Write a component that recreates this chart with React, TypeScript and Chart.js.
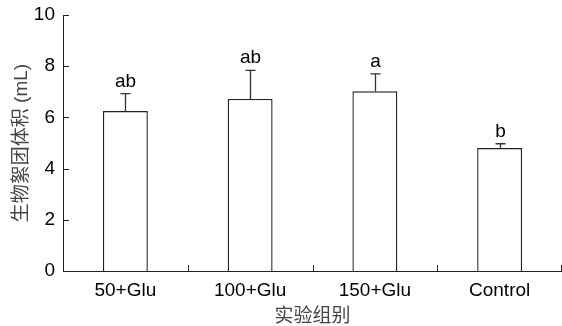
import React, { useEffect, useRef } from "react";
import { Chart, registerables } from "chart.js";

Chart.register(...registerables);

const categories = ["50+Glu", "100+Glu", "150+Glu", "Control"];
const means = [6.25, 6.72, 7.02, 4.8];
const errors = [0.68, 1.12, 0.68, 0.17];
const letters = ["ab", "ab", "a", "b"];
const yTicks = [0, 2, 4, 6, 8, 10];

const FONT = '"Liberation Sans", Arial, "Noto Sans CJK SC", sans-serif';

const decorPlugin = {
  id: "decor",
  afterDatasetsDraw(chart: any) {
    const { ctx, chartArea, scales } = chart;
    const x = scales.x;
    const y = scales.y;
    ctx.save();
    ctx.strokeStyle = "#222";
    ctx.lineWidth = 1;
    yTicks.forEach((v) => {
      const py = Math.round(y.getPixelForValue(v)) + 0.5;
      ctx.beginPath();
      ctx.moveTo(chartArea.left, py);
      ctx.lineTo(chartArea.left + 6, py);
      ctx.stroke();
    });
    const n = categories.length;
    const half = (x.getPixelForValue(1) - x.getPixelForValue(0)) / 2;
    for (let i = 0; i <= n; i++) {
      let px = i < n ? x.getPixelForValue(i) - half : x.getPixelForValue(n - 1) + half;
      px = Math.min(Math.round(px), chart.width - 1) + 0.5;
      ctx.beginPath();
      ctx.moveTo(px, chartArea.bottom);
      ctx.lineTo(px, chartArea.bottom - 6);
      ctx.stroke();
    }
    ctx.strokeStyle = "#333";
    ctx.lineWidth = 1.3;
    ctx.fillStyle = "#000";
    ctx.font = "19px " + FONT;
    ctx.textAlign = "center";
    ctx.textBaseline = "alphabetic";
    means.forEach((m, i) => {
      const cx = Math.round(x.getPixelForValue(i)) + 0.5;
      const yTop = y.getPixelForValue(m);
      const yErr = y.getPixelForValue(m + errors[i]);
      ctx.beginPath();
      ctx.moveTo(cx, yTop);
      ctx.lineTo(cx, yErr);
      ctx.moveTo(cx - 5, yErr);
      ctx.lineTo(cx + 5, yErr);
      ctx.stroke();
      ctx.fillText(letters[i], cx, yErr - 7);
    });
    ctx.restore();
  },
};

export default function App() {
  const ref = useRef<HTMLCanvasElement | null>(null);
  useEffect(() => {
    document.body.style.margin = "0";
    const canvas = ref.current;
    if (!canvas) return;
    const chart = new Chart(canvas, {
      type: "bar",
      data: {
        labels: categories,
        datasets: [
          {
            data: means,
            backgroundColor: "#ffffff",
            borderColor: "#222",
            borderWidth: 1.4,
            borderSkipped: "bottom",
            categoryPercentage: 1,
            barPercentage: 0.36,
          },
        ],
      },
      options: {
        responsive: false,
        animation: false,
        devicePixelRatio: 1,
        layout: { padding: { top: 15, right: 0, left: 0, bottom: 0 } },
        plugins: {
          legend: { display: false },
          tooltip: { enabled: false },
        },
        scales: {
          x: {
            offset: true,
            grid: { display: false, drawTicks: false },
            border: { display: true, color: "#222", width: 1 },
            ticks: {
              color: "#000",
              font: { family: FONT, size: 19 },
              padding: 8,
              maxRotation: 0,
            },
            title: {
              display: true,
              text: "实验组别",
              color: "#444",
              font: { family: FONT, size: 19, lineHeight: 1 },
              padding: { top: 0, bottom: 0 },
            },
            afterFit(scale: any) {
              scale.height = 55;
              scale.paddingLeft = 0;
              scale.paddingRight = 0;
            },
          },
          y: {
            min: 0,
            max: 10,
            grid: { display: false, drawTicks: false },
            border: { display: true, color: "#222", width: 1 },
            ticks: {
              stepSize: 2,
              color: "#000",
              font: { family: FONT, size: 19 },
              padding: 8,
            },
            title: {
              display: true,
              text: "生物絮团体积 (mL)",
              color: "#444",
              font: { family: FONT, size: 19 },
              padding: { top: 10, bottom: 0 },
            },
            afterFit(scale: any) {
              scale.width = 63;
              scale.paddingTop = 0;
              scale.paddingBottom = 0;
            },
          },
        },
      },
      plugins: [decorPlugin],
    });
    return () => chart.destroy();
  }, []);
  return (
    <div style={{ width: 562, height: 326 }}>
      <canvas ref={ref} width={562} height={326} style={{ display: "block" }} />
    </div>
  );
}
